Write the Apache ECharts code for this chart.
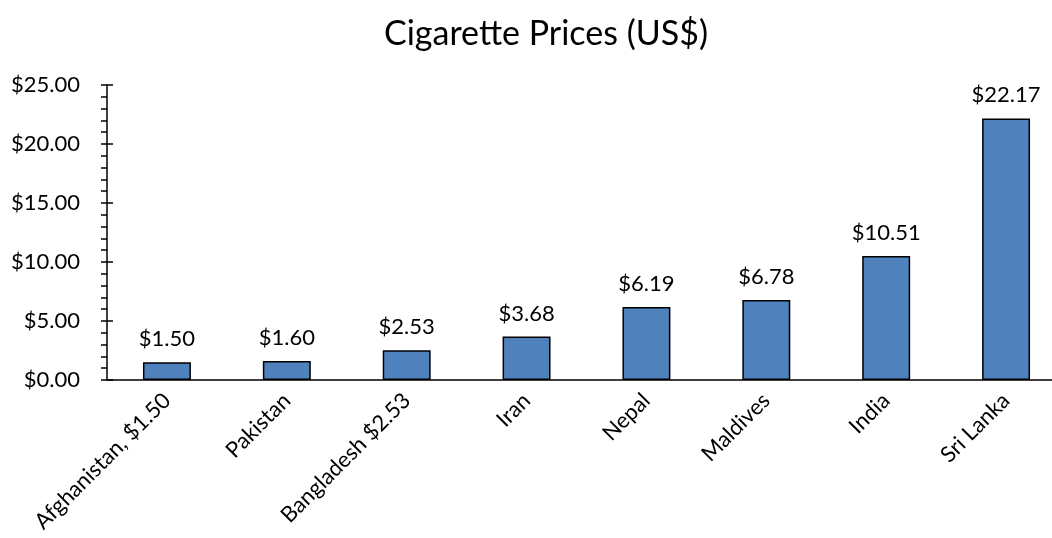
<!DOCTYPE html>
<html>
<head>
<meta charset="utf-8">
<script src="https://cdn.jsdelivr.net/npm/echarts@6/dist/echarts.min.js"></script>
<style>
  html, body { margin: 0; padding: 0; background: #fff; }
  #chart { width: 1052px; height: 538px; }
</style>
</head>
<body>
<div id="chart"></div>
<script>
// Cigarette pack prices in South Asian countries (US$)
const categories = ['Afghanistan, $1.50', 'Pakistan', 'Bangladesh $2.53', 'Iran', 'Nepal', 'Maldives', 'India', 'Sri Lanka'];
const prices = [1.50, 1.60, 2.53, 3.68, 6.19, 6.78, 10.51, 22.17];
const yTicks = [0, 5, 10, 15, 20, 25];

const font = 'Lato, "Open Sans", sans-serif';
const money = v => '$' + Number(v).toFixed(2);
const yMin = yTicks[0];
const yMax = yTicks[yTicks.length - 1];

const chart = echarts.init(document.getElementById('chart'));
chart.setOption({
  animation: false,
  backgroundColor: '#ffffff',
  title: {
    text: 'Cigarette Prices (US$)',
    left: 541,
    textAlign: 'center',
    top: 12,
    textStyle: { fontFamily: font, fontSize: 34, fontWeight: 'normal', color: '#000' }
  },
  // plot area runs slightly past the right edge of the canvas
  grid: { left: 107, width: 959, top: 85, height: 295, containLabel: false, outerBoundsMode: 'none' },
  xAxis: {
    type: 'category',
    data: categories,
    axisLine: { lineStyle: { color: '#000', width: 1.5 } },
    axisTick: { show: false },
    axisLabel: {
      rotate: 45,
      interval: 0,
      margin: 17,
      fontFamily: font,
      fontSize: 22,
      color: '#000'
    }
  },
  yAxis: [{
    type: 'value',
    min: yMin,
    max: yMax,
    interval: 5,
    splitLine: { show: false },
    axisLine: { show: true, lineStyle: { color: '#000', width: 1.5 } },
    axisTick: { show: true, length: 6, lineStyle: { color: '#000', width: 1.5 } },
    minorTick: { show: true, splitNumber: 5, length: 6, lineStyle: { color: '#000', width: 1.5 } },
    axisLabel: {
      margin: 27,
      fontFamily: font,
      fontSize: 22,
      color: '#000',
      formatter: money
    }
  }, {
    // inner half of the major ticks, so they cross the axis line
    type: 'value',
    position: 'left',
    min: yMin,
    max: yMax,
    interval: 5,
    splitLine: { show: false },
    axisLine: { show: false },
    axisTick: { show: true, inside: true, length: 6, lineStyle: { color: '#000', width: 1.5 } },
    axisLabel: { show: false }
  }],
  series: [{
    type: 'bar',
    data: prices,
    barWidth: '40%',
    itemStyle: { color: '#4F81BD', borderColor: '#000', borderWidth: 1.5 },
    label: {
      show: true,
      position: 'top',
      distance: 12,
      fontFamily: font,
      fontSize: 22,
      color: '#000',
      formatter: p => money(p.value)
    }
  }]
});
</script>
</body>
</html>
